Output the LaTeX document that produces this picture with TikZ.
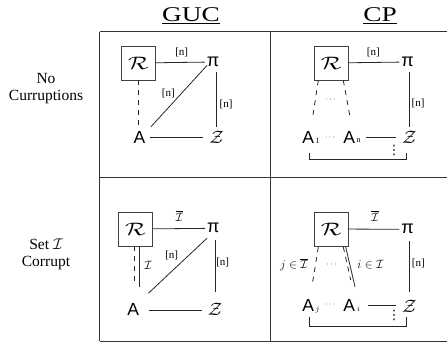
\RequirePackage{fix-cm}
\documentclass[tikz,border=0pt]{standalone}
\usepackage{graphicx}
\usepackage{fontspec}
\setmainfont{Liberation Serif}
\newfontfamily\sansf{Liberation Sans}
\newfontfamily\dvs{DejaVu Sans}
\usetikzlibrary{calc}
\newcommand{\calR}{{\fontsize{18}{20}\selectfont\scalebox{1.35}[1]{$\mathcal{R}$}}}
\newcommand{\zz}{{\fontsize{18}{20}\selectfont$\mathcal{Z}$}}
\tikzset{
 grid/.style={line width=1pt, black!80},
 conn/.style={line width=0.8pt, black!85},
 dsh/.style={conn, dash pattern=on 5pt off 5pt},
 rbox/.style={draw, line width=0.8pt, black!75, minimum width=34pt, minimum height=34pt, inner sep=0pt, text=black},
 agent/.style={inner xsep=4pt, inner ysep=2pt, font=\sansf\fontsize{17.5}{18}\selectfont},
 pinode/.style={inner sep=2pt, font=\sansf\fontsize{18}{18}\selectfont},
 znode/.style={inner xsep=4pt, inner ysep=2pt},
 lbl/.style={inner sep=0pt, font=\fontsize{11}{12}\selectfont},
 mlbl/.style={inner sep=0pt, font=\fontsize{12}{13}\selectfont},
 vd/.style={inner sep=0pt, font=\dvs\fontsize{13}{14}\selectfont},
 sub/.style={inner sep=0pt, font=\fontsize{8}{9}\selectfont},
 head/.style={font=\fontsize{21}{24}\selectfont, inner sep=0pt},
 side/.style={align=center, font=\fontsize{15.5}{17}\selectfont, inner sep=0pt},
}
\begin{document}
\begin{tikzpicture}[x=1pt,y=-1pt]
\useasboundingbox (0,0) rectangle (447,342);
% table
\draw[grid] (99.5,31.7) -- (447,31.7);
\draw[grid] (99.5,177) -- (447,177);
\draw[grid] (99.5,341) -- (447,341);
\draw[grid] (99.5,31.7) -- (99.5,341);
\draw[grid] (270,31.7) -- (270,341);
% headings
\node[head] (hguc) at (191,15.3) {\scalebox{1.3}[1]{\underline{GUC}}};
\node[head] (hcp) at (380,15.3) {\scalebox{1.3}[1]{\underline{CP}}};
% side labels
\node[side] (nc) at (46,89) {No\\Curruptions};
\node[side] (sc) at (46,254) {Set\hspace{4pt}$\mathcal{I}$\\Corrupt};

% ---------- upper GUC
\node[rbox] (R1) at (138.4,63) {\calR};
\node[pinode] (P1) at (213,62) {π};
\node[agent] (A1) at (139.5,137.5) {A};
\node[znode] (Z1) at (216.5,137.5) {\zz};
\draw[conn] (R1) -- (P1);
\draw[dsh] (R1.south) -- ($(R1.south |- A1.north)+(0,-4)$);
\draw[conn] ($(A1.north east)+(1.4,-2.5)$) -- ($(P1.south west)+(2.5,-3.7)$);
\draw[conn] ($(P1.south -| Z1.north)+(0,3)$) -- ($(Z1.north)+(0,-2.5)$);
\draw[conn] (A1) -- ($(Z1.west)+(-2,0)$);
\node[lbl] (n1a) at (181.7,52) {[n]};
\node[lbl] (n1b) at (168.3,93.3) {[n]};
\node[lbl] (n1c) at (226,104) {[n]};

% ---------- upper CP
\node[rbox] (R2) at (331.2,63) {\calR};
\node[pinode] (P2) at (407.7,62) {π};
\node[agent] (A2a) at (308.3,137.5) {A};
\node[sub] (s2a) at (317.5,141) {1};
\node[sub] (c2a) at (330,137.5) {$\cdots$};
\node[agent] (A2b) at (349.3,137.5) {A};
\node[sub] (s2b) at (358.5,141) {n};
\node[znode] (Z2) at (409.3,137.5) {\zz};
\draw[conn] (R2) -- (P2);
\draw[conn] ($(P2.south -| Z2.north)+(0,3)$) -- ($(Z2.north)+(0,-2.5)$);
\coordinate (w2) at (366,137.5);
\draw[conn] ($(Z2.west)+(-2,0)$) -- (w2);
\node[vd] (v2) at (394,150) {⋮};
\coordinate (b2l) at ($(A2a.south)+(1,14)$);
\draw[conn] ($(A2a.south)+(1,7.5)$) -- (b2l) -| ($(Z2.south)+(-2.5,7.5)$);
\coordinate (e2a) at (312.7,116.7);
\coordinate (e2b) at (350,116.7);
\draw[dsh] ($(R2.south)+(-12.9,0)$) -- (e2a);
\draw[dsh] ($(R2.south)+(12.1,0)$) -- (e2b);
\node[sub] (c2b) at (330.7,100) {$\cdots$};
\node[lbl] (n2a) at (373.3,52) {[n]};
\node[lbl] (n2b) at (418,103.3) {[n]};

% ---------- lower GUC
\node[rbox] (R3) at (135.5,229) {\calR};
\node[pinode] (P3) at (213.3,228.3) {π};
\node[agent] (A3) at (133.3,309) {A};
\node[znode] (Z3) at (215,309) {\zz};
\draw[conn] (R3) -- (P3);
\coordinate (e3a) at (134.3,283.3);
\coordinate (e3b) at (139.3,286.7);
\draw[dsh] ($(R3.south)+(-1.2,0)$) -- (e3a);
\draw[conn] ($(R3.south)+(3.8,0)$) -- (e3b);
\draw[conn] ($(A3.north east)+(5,-7.5)$) -- ($(P3.south west)+(2,3)$);
\draw[conn] ($(P3.south -| Z3.north)+(0,5)$) -- ($(Z3.north)+(0,-9)$);
\draw[conn] ($(A3.east)+(6,1)$) -- ($(Z3.west)+(-2,1)$);
\node[mlbl] (i3a) at (179.3,216) {$\overline{\mathcal{I}}$};
\node[mlbl] (i3b) at (148,265) {$\mathcal{I}$};
\node[lbl] (n3b) at (171.7,255) {[n]};
\node[lbl] (n3c) at (222.7,262.7) {[n]};

% ---------- lower CP
\node[rbox] (R4) at (331.2,229) {\calR};
\node[pinode] (P4) at (407.7,229.3) {π};
\node[agent] (A4a) at (308.3,305) {A};
\node[sub] (s4a) at (317.5,310) {$j$};
\node[sub] (c4a) at (330,305) {$\cdots$};
\node[agent] (A4b) at (349.3,305) {A};
\node[sub] (s4b) at (358.5,309) {$i$};
\node[znode] (Z4) at (409.3,306) {\zz};
\draw[conn] (R4) -- (P4);
\draw[conn] ($(P4.south -| Z4.north)+(0,5)$) -- ($(Z4.north)+(0,-6)$);
\coordinate (w4) at (368.3,305);
\draw[conn] ($(Z4.west)+(-2,-1)$) -- (w4);
\node[vd] (v4) at (394,315) {⋮};
\coordinate (b4l) at ($(A4a.south)+(1,12.7)$);
\draw[conn] ($(A4a.south)+(1,3.5)$) -- (b4l) -| ($(Z4.south)+(-2.5,2.2)$);
\coordinate (e4a) at (312.7,281.7);
\coordinate (e4b) at (350.7,280);
\coordinate (e4c) at (355,286.7);
\draw[dsh] ($(R4.south)+(-12.9,0.7)$) -- (e4a);
\draw[dsh] ($(R4.south)+(12.1,0.7)$) -- (e4b);
\draw[conn] ($(R4.south)+(14.5,0.7)$) -- (e4c);
\node[mlbl] (j4) at (294,265) {$j\in\overline{\mathcal{I}}$};
\node[sub] (c4b) at (331.7,265) {$\cdots$};
\node[mlbl] (i4) at (370.5,265) {$i\in\mathcal{I}$};
\node[mlbl] (i4a) at (375,216) {$\overline{\mathcal{I}}$};
\node[lbl] (n4) at (418.3,263.3) {[n]};
\end{tikzpicture}
\end{document}
